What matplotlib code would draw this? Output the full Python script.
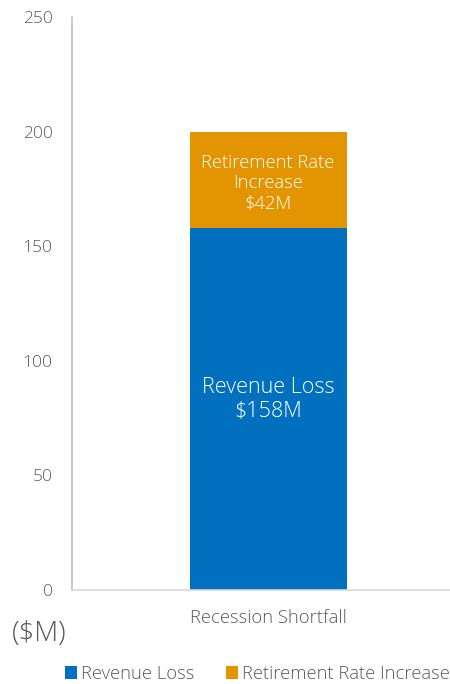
import matplotlib.pyplot as plt

plt.rcParams['font.family'] = ['Open Sans', 'DejaVu Sans']
plt.rcParams['font.weight'] = 'light'

category = ['Recession Shortfall']
revenue_loss = [158]
retirement_increase = [42]
series_names = ['Revenue Loss', 'Retirement Rate Increase']
bar_labels = ['Revenue Loss\n$158M', 'Retirement Rate\nIncrease\n$42M']
yticks = [0, 50, 100, 150, 200, 250]

blue = '#0070BF'
orange = '#E29500'
grey = '#595959'

fig = plt.figure(figsize=(4.5, 6.84), dpi=100)
ax = fig.add_axes([72 / 450, 1 - 590 / 684, 1 - 72 / 450, (590 - 17) / 684])

x = [0]
w = 0.6
b1 = ax.bar(x, revenue_loss, width=w, color=blue, label=series_names[0])
b2 = ax.bar(x, retirement_increase, width=w, bottom=revenue_loss, color=orange,
            label=series_names[1])

ax.text(x[0], 83, bar_labels[0], ha='center', va='center',
        color='white', fontsize=15.5, linespacing=1.2)
ax.text(x[0], 177.5, bar_labels[1],
        ha='center', va='center', color='white', fontsize=13.2, linespacing=1.18)

ax.set_ylim(0, 250)
ax.set_yticks(yticks)
ax.set_xlim(-0.749, 0.695)
ax.set_xticks(x)
ax.set_xticklabels(category)

for s in ['top', 'right']:
    ax.spines[s].set_visible(False)
ax.spines['left'].set_color('#BFBFBF')
ax.spines['left'].set_linewidth(1.2)
ax.spines['bottom'].set_color('#D9D9D9')
ax.spines['bottom'].set_linewidth(1.2)
ax.tick_params(axis='y', length=0, labelsize=12.5, labelcolor=grey, pad=14)
ax.tick_params(axis='x', length=0, labelsize=13.2, labelcolor=grey, pad=14)

fig.text(12 / 450, 1 - 634 / 684, '($M)', fontsize=20, color=grey,
         ha='left', va='center')

# the reference legend runs off the right edge as well
fig.legend(handles=[b1, b2], labels=series_names, loc='center left',
           bbox_to_anchor=(58 / 450, 1 - 674 / 684), ncol=2, frameon=False,
           fontsize=13.2, labelcolor=grey, handlelength=0.65, handleheight=0.65,
           handletextpad=0.2, columnspacing=1.75, borderaxespad=0)

fig.savefig('out.png', dpi=100)
